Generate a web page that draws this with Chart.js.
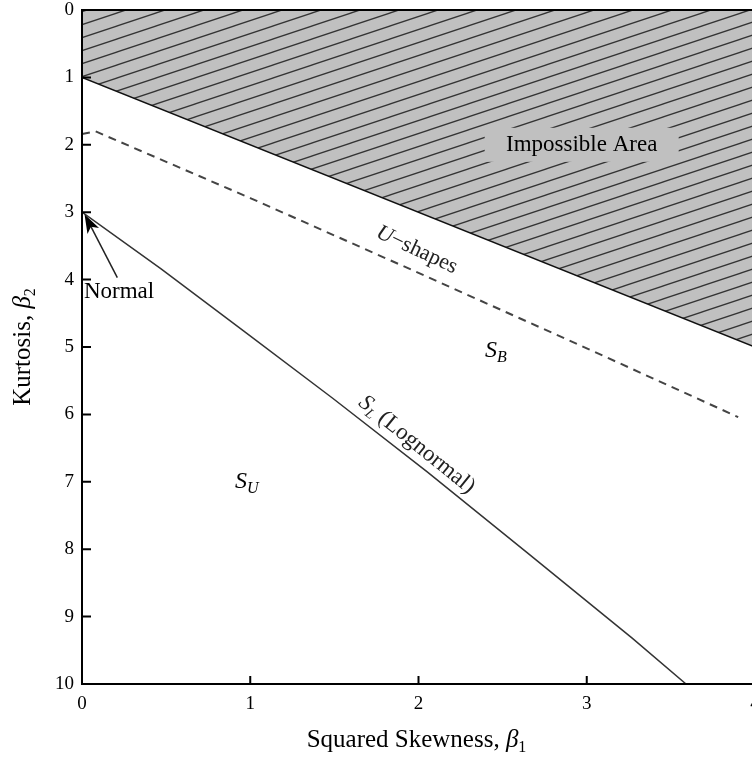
<!DOCTYPE html>
<html>
<head>
<meta charset="utf-8">
<script src="https://cdn.jsdelivr.net/npm/chart.js@4.4.1/dist/chart.umd.min.js"></script>
<style>
  html, body { margin: 0; padding: 0; background: #fff; overflow: hidden; }
  canvas { display: block; }
</style>
</head>
<body>
<canvas id="kurtosis-chart" width="780" height="763"></canvas>
<script>
// squared skewness (β1) against kurtosis (β2) for each boundary
const impossibleSkew = [0, 4];
const impossibleKurt = [1, 5];
const uShapeSkew = [0, 0.08, 1, 2, 3, 3.9];
const uShapeKurt = [1.84, 1.8, 2.79, 3.9, 5.02, 6.04];
const lognormalSkew = [0, 0.47, 0.96, 1.49, 2.05, 2.64, 3.27, 3.59];
const lognormalKurt = [3, 3.84, 4.76, 5.76, 6.85, 8.04, 9.32, 10];
const xTicks = [0, 1, 2, 3, 4];
const yTicks = [0, 1, 2, 3, 4, 5, 6, 7, 8, 9, 10];

const SERIF = '"Liberation Serif", "Times New Roman", serif';

function toPoints(xs, ys) {
    return xs.map((x, i) => ({ x: x, y: ys[i] }));
}

// grey fill with thin rising hatch lines
function hatchPattern() {
    const c = document.createElement('canvas');
    c.width = 39;
    c.height = 13;
    const g = c.getContext('2d');
    g.fillStyle = '#c0c0c0';
    g.fillRect(0, 0, 39, 13);
    g.strokeStyle = '#333';
    g.lineWidth = 1.3;
    for (let k = -1; k <= 1; k++) {
        g.beginPath();
        g.moveTo(-39, 26 + 13 * k);
        g.lineTo(78, -13 + 13 * k);
        g.stroke();
    }
    return g.createPattern(c, 'repeat');
}

// text made of pieces with their own font / vertical shift (for subscripts)
function drawPieces(ctx, pieces, x, y) {
    let w = 0;
    pieces.forEach(p => { ctx.font = p[1]; w += ctx.measureText(p[0]).width; });
    let cx = x - w / 2;
    pieces.forEach(p => {
        ctx.font = p[1];
        ctx.fillText(p[0], cx, y + (p[2] || 0));
        cx += ctx.measureText(p[0]).width;
    });
}

const italic = size => 'italic ' + size + 'px ' + SERIF;
const plain = size => size + 'px ' + SERIF;

const overlay = {
    id: 'overlay',
    afterDraw(chart) {
        const { ctx, chartArea: a, scales: { x, y } } = chart;
        ctx.save();
        ctx.textBaseline = 'middle';
        ctx.textAlign = 'left';

        // box behind "Impossible Area"
        const ix = x.getPixelForValue(2.97), iy = y.getPixelForValue(2.0);
        ctx.fillStyle = '#c0c0c0';
        ctx.fillRect(ix - 97, iy - 17, 194, 34);
        ctx.fillStyle = '#000';
        drawPieces(ctx, [['Impossible Area', plain(23)]], ix, iy);

        // U-shapes label along the dashed line
        ctx.save();
        ctx.translate(x.getPixelForValue(1.99), y.getPixelForValue(3.56));
        ctx.rotate(25 * Math.PI / 180);
        ctx.fillStyle = '#222';
        drawPieces(ctx, [['U', italic(22)], ['\u2212shapes', plain(22)]], 0, 0);
        ctx.restore();

        // lognormal label
        ctx.save();
        ctx.translate(x.getPixelForValue(1.99), y.getPixelForValue(6.45));
        ctx.rotate(39 * Math.PI / 180);
        ctx.fillStyle = '#222';
        drawPieces(ctx, [['S', italic(23)], ['L', italic(14), 6], [' (Lognormal)', plain(23)]], 0, 0);
        ctx.restore();

        ctx.fillStyle = '#000';
        drawPieces(ctx, [['S', italic(24)], ['B', italic(16), 7]], x.getPixelForValue(2.46), y.getPixelForValue(5.05));
        drawPieces(ctx, [['S', italic(24)], ['U', italic(16), 7]], x.getPixelForValue(0.98), y.getPixelForValue(7.0));

        // "Normal" with arrow pointing at β1 = 0, β2 = 3
        drawPieces(ctx, [['Normal', plain(23)]], x.getPixelForValue(0.22), y.getPixelForValue(4.19));
        const tx = x.getPixelForValue(0.21), ty = y.getPixelForValue(3.97);
        const hx = x.getPixelForValue(0.015), hy = y.getPixelForValue(3.03);
        const ang = Math.atan2(hy - ty, hx - tx);
        ctx.strokeStyle = '#222';
        ctx.lineWidth = 1.5;
        ctx.beginPath();
        ctx.moveTo(tx, ty);
        ctx.lineTo(hx - 12 * Math.cos(ang), hy - 12 * Math.sin(ang));
        ctx.stroke();
        ctx.fillStyle = '#000';
        ctx.beginPath();
        ctx.moveTo(hx, hy);
        ctx.lineTo(hx - 19 * Math.cos(ang) + 6.5 * Math.sin(ang), hy - 19 * Math.sin(ang) - 6.5 * Math.cos(ang));
        ctx.lineTo(hx - 14 * Math.cos(ang), hy - 14 * Math.sin(ang));
        ctx.lineTo(hx - 19 * Math.cos(ang) - 6.5 * Math.sin(ang), hy - 19 * Math.sin(ang) + 6.5 * Math.cos(ang));
        ctx.closePath();
        ctx.fill();

        // frame and inward ticks
        ctx.strokeStyle = '#000';
        ctx.lineWidth = 2;
        ctx.beginPath();
        ctx.moveTo(a.left, a.top);
        ctx.lineTo(a.right, a.top);
        ctx.lineTo(a.right, a.bottom);
        ctx.lineTo(a.left, a.bottom);
        ctx.closePath();
        yTicks.forEach(v => {
            const py = y.getPixelForValue(v);
            ctx.moveTo(a.left, py);
            ctx.lineTo(a.left + 9, py);
        });
        xTicks.forEach(v => {
            const px = x.getPixelForValue(v);
            ctx.moveTo(px, a.bottom);
            ctx.lineTo(px, a.bottom - 8);
        });
        ctx.stroke();

        // axis titles
        ctx.fillStyle = '#000';
        ctx.textBaseline = 'alphabetic';
        drawPieces(ctx, [['Squared Skewness, ', plain(25)], ['\u03b2', italic(25)], ['1', plain(16), 5]],
            (a.left + a.right) / 2 - 2, 747);
        ctx.save();
        ctx.translate(30, (a.top + a.bottom) / 2);
        ctx.rotate(-Math.PI / 2);
        drawPieces(ctx, [['Kurtosis, ', plain(25)], ['\u03b2', italic(25)], ['2', plain(16), 5]], 0, 0);
        ctx.restore();

        ctx.restore();
    }
};

new Chart(document.getElementById('kurtosis-chart'), {
    type: 'scatter',
    data: {
        datasets: [{
            label: 'Impossible area',
            data: toPoints(impossibleSkew, impossibleKurt),
            showLine: true,
            borderColor: '#111',
            borderWidth: 1.6,
            backgroundColor: hatchPattern(),
            fill: { value: 0 },
            pointRadius: 0
        }, {
            label: 'U-shapes',
            data: toPoints(uShapeSkew, uShapeKurt),
            showLine: true,
            borderColor: '#444',
            borderWidth: 2,
            borderDash: [8, 6],
            fill: false,
            pointRadius: 0
        }, {
            label: 'Lognormal',
            data: toPoints(lognormalSkew, lognormalKurt),
            showLine: true,
            borderColor: '#333',
            borderWidth: 1.5,
            fill: false,
            pointRadius: 0
        }]
    },
    options: {
        responsive: false,
        animation: false,
        layout: { padding: { top: 10, right: 25, left: 0, bottom: 0 } },
        plugins: { legend: { display: false }, tooltip: { enabled: false } },
        scales: {
            x: {
                type: 'linear',
                min: 0,
                max: 4,
                afterBuildTicks: s => { s.ticks = xTicks.map(v => ({ value: v })); },
                afterFit: s => { s.height = 79; s.paddingLeft = 0; s.paddingRight = 0; },
                grid: { display: false, drawTicks: false },
                border: { display: false },
                ticks: { color: '#000', padding: 9, maxRotation: 0, font: { family: SERIF, size: 19 } }
            },
            y: {
                type: 'linear',
                min: 0,
                max: 10,
                reverse: true,
                afterBuildTicks: s => { s.ticks = yTicks.map(v => ({ value: v })); },
                afterFit: s => { s.width = 82; s.paddingTop = 0; s.paddingBottom = 0; },
                grid: { display: false, drawTicks: false },
                border: { display: false },
                ticks: { color: '#000', padding: 8, font: { family: SERIF, size: 19 } }
            }
        }
    },
    plugins: [overlay]
});
</script>
</body>
</html>
